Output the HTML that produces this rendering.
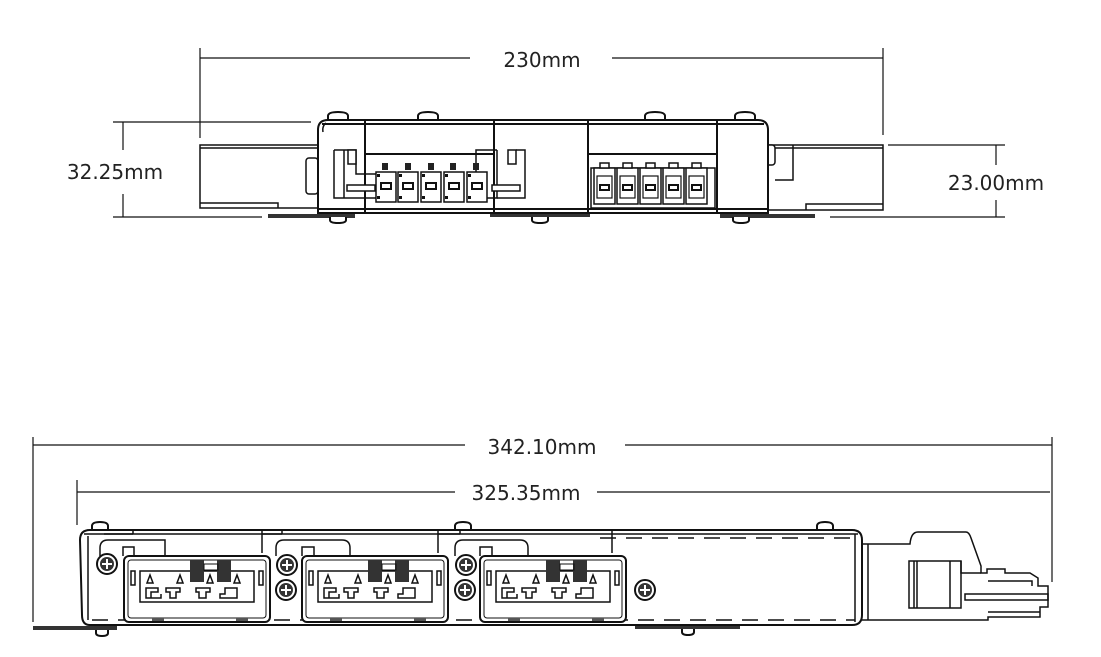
<!DOCTYPE html>
<html><head><meta charset="utf-8"><style>
html,body{margin:0;padding:0;background:#fff;}
svg{display:block;}
text{font-family:"DejaVu Sans","Liberation Sans",sans-serif;font-size:20px;fill:#222;}
</style></head><body>
<svg width="1101" height="657" viewBox="0 0 1101 657" xmlns="http://www.w3.org/2000/svg">
<defs>
<g id="tc">
 <rect x="0" y="0" width="20" height="30" fill="#fff" stroke="#111" stroke-width="1.5"/>
 <rect x="5" y="11" width="10" height="6" fill="#fff" stroke="#111" stroke-width="2"/>
 <rect x="1" y="2" width="3" height="3" fill="#111"/><rect x="1" y="24" width="3" height="3" fill="#111"/>
</g>
<g id="tc2">
 <rect x="0" y="0" width="21" height="36" fill="#fff" stroke="#111" stroke-width="1.5"/>
 <rect x="3" y="8" width="15" height="22" fill="#fff" stroke="#111" stroke-width="1.2"/>
 <rect x="6" y="17" width="9" height="5" fill="#fff" stroke="#111" stroke-width="2"/>
 <rect x="6" y="-5" width="9" height="5" fill="#fff" stroke="#111" stroke-width="1.5"/>
</g>
<g id="scr">
 <circle r="10" fill="#fff" stroke="#111" stroke-width="2"/>
 <circle r="7" fill="#333"/>
 <path d="M-5 0H5M0 -5V5" stroke="#fff" stroke-width="2"/>
</g>
<g id="out">
 <rect x="0" y="0" width="146" height="66" rx="5" fill="#fff" stroke="#111" stroke-width="2"/>
 <rect x="4" y="4" width="138" height="58" rx="3" fill="none" stroke="#111" stroke-width="1"/>
 <rect x="16" y="15" width="114" height="31" fill="none" stroke="#111" stroke-width="1.5"/>
 <rect x="7" y="15" width="4" height="14" fill="none" stroke="#111" stroke-width="1.5"/>
 <rect x="135" y="15" width="4" height="14" fill="none" stroke="#111" stroke-width="1.5"/>
 <path d="M23 27l3-8 3 8z M53 27l3-8 3 8z M83 27l3-8 3 8z M110 27l3-8 3 8z" fill="none" stroke="#111" stroke-width="1.5"/>
 <rect x="66" y="4" width="14" height="22" fill="#333"/>
 <rect x="93" y="4" width="14" height="22" fill="#333"/>
 <rect x="80" y="8" width="14" height="6" fill="none" stroke="#111"/>
 <path d="M22 32h12v4h-7v6h-5z M27 36v6h10v-4 M42 32h14v4h-4v6h-6v-6h-4z M72 32h14v4h-4v6h-7v-6h-3z M96 38h5v-6h12v10h-17z" fill="none" stroke="#111" stroke-width="1.5"/>
 <rect x="28" y="62" width="12" height="3" fill="#555"/><rect x="112" y="62" width="12" height="3" fill="#555"/>
</g>
</defs>

<g stroke="#111" fill="none" stroke-width="1.5">
<!-- 230mm dimension -->
<path d="M200 48V138 M883 48V135 M200 58H470 M612 58H883" stroke-width="1.2"/>
<!-- 32.25 -->
<path d="M113 122H311 M113 217H262 M123 122V150 M123 194V217" stroke-width="1.2"/>
<!-- 23.00 -->
<path d="M888 145H1005 M830 217H1005 M996 145V165 M996 200V217" stroke-width="1.2"/>

<!-- left tab -->
<rect x="200" y="145" width="118" height="63" fill="#fff"/>
<path d="M200 148H318 M200 203H278V208"/>
<rect x="306" y="158" width="12" height="36" rx="3" fill="#fff"/>
<!-- right tab -->
<rect x="768" y="145" width="115" height="65" fill="#fff"/>
<path d="M775 148H883 M806 210V204H883 M793 145V180H775"/>
<rect x="766" y="145" width="9" height="20" rx="3" fill="#fff"/>
<!-- plates -->
<rect x="268" y="214" width="87" height="4" fill="#333" stroke="none"/>
<rect x="490" y="213" width="100" height="4" fill="#333" stroke="none"/>
<rect x="720" y="214" width="95" height="4" fill="#333" stroke="none"/>
<!-- top screws -->
<path d="M328 120v-4q0-4 10-4t10 4v4 M418 120v-4q0-4 10-4t10 4v4 M645 120v-4q0-4 10-4t10 4v4 M735 120v-4q0-4 10-4t10 4v4" fill="#fff" stroke-width="2"/>
<path d="M330 217v3q0 3 8 3t8-3v-3 M532 217v3q0 3 8 3t8-3v-3 M733 217v3q0 3 8 3t8-3v-3" fill="#fff" stroke-width="2"/>
<!-- body -->
<path d="M318 130Q318 120 328 120H758Q768 120 768 130V213H318Z" fill="#fff" stroke-width="2"/>
<path d="M322 124H764 M318 209H768 M365 120V213 M494 120V213 M588 120V213 M717 120V213 M365 154H494 M588 154H717" stroke-width="2"/>
<path d="M326 123Q322 126 323 132" />
<!-- left latch frame -->
<path d="M334 150V198H377 M497 150V198H471 M334 150H356V174H377 M497 150H476V174H471" stroke-width="1.5"/>
<rect x="348" y="150" width="8" height="14" fill="#fff"/><rect x="508" y="150" width="8" height="14" fill="#fff"/>
<path d="M516 150H525V198H497" />
<path d="M344 150V198" />
<rect x="347" y="185" width="28" height="6" fill="#fff"/>
<rect x="492" y="185" width="28" height="6" fill="#fff"/>
</g>
<g>
<rect x="382" y="163" width="6" height="7" fill="#222"/><rect x="405" y="163" width="6" height="7" fill="#222"/><rect x="428" y="163" width="6" height="7" fill="#222"/><rect x="450" y="163" width="6" height="7" fill="#222"/><rect x="473" y="163" width="6" height="7" fill="#222"/>
<use href="#tc" x="376" y="172"/><use href="#tc" x="398" y="172"/><use href="#tc" x="421" y="172"/><use href="#tc" x="444" y="172"/><use href="#tc" x="467" y="172"/>
<rect x="591" y="168" width="124" height="40" fill="none" stroke="#111" stroke-width="1.5"/>
<use href="#tc2" x="594" y="168"/><use href="#tc2" x="617" y="168"/><use href="#tc2" x="640" y="168"/><use href="#tc2" x="663" y="168"/><use href="#tc2" x="686" y="168"/>
</g>

<text x="542" y="67" text-anchor="middle">230mm</text>
<text x="115" y="179" text-anchor="middle">32.25mm</text>
<text x="996" y="190" text-anchor="middle">23.00mm</text>

<!-- bottom view -->
<g stroke="#111" fill="none" stroke-width="1.2">
<path d="M33 437V622 M1052 437V582 M33 445H465 M625 445H1052"/>
<path d="M77 480V525 M77 492H455 M597 492H1050"/>
</g>
<text x="542" y="454" text-anchor="middle">342.10mm</text>
<text x="526" y="500" text-anchor="middle">325.35mm</text>

<g stroke="#111" fill="none" stroke-width="1.5">
<rect x="33" y="626" width="84" height="4" fill="#333" stroke="none"/>
<rect x="635" y="625" width="105" height="4" fill="#333" stroke="none"/>
<path d="M92 530v-4q0-4 8-4t8 4v4 M455 530v-4q0-4 8-4t8 4v4 M817 530v-4q0-4 8-4t8 4v4" fill="#fff" stroke-width="2"/>
<path d="M96 630v3q0 3 6 3t6-3v-3 M682 629v3q0 3 6 3t6-3v-3" fill="#fff" stroke-width="2"/>
<!-- right connector section -->
<path d="M862 544H910Q911 532 918 532H966Q969 532 971 538L981 566V573H987V569H1005V573H1030L1038 578V586H1048V607H1040V617H988V620H862" fill="#fff" stroke-width="1.5"/>
<path d="M868 544V620"/>
<rect x="909" y="561" width="52" height="47" fill="#fff"/>
<path d="M914 561V608 M917 561V608 M950 561V608 M961 561V573H981"/>
<rect x="965" y="594" width="83" height="6"/>
<path d="M988 581H1032V586 M988 612H1040"/>
<!-- main body -->
<path d="M80 540Q80 530 90 530H852Q862 530 862 540V615Q862 625 852 625H90Q82 625 82 615Z" fill="#fff" stroke-width="2"/>
<path d="M84 534H858 M855 534V622 M88 536V620"/>
<path d="M133 534V530 M262 530V553 M282 530V534 M438 530V553 M460 530V534 M612 530V553 M104 534H133 M262 534H282 M438 534H460"/>
<path d="M600 538H855" stroke-dasharray="16 10"/>
<path d="M92 620H855" stroke-dasharray="16 10"/>
<path d="M100 556V548Q100 540 108 540H165V556 M276 556V548Q276 540 284 540H342Q350 540 350 548V556 M455 556V548Q455 540 463 540H520Q528 540 528 548V556" />
<path d="M123 556V547H134V556 M302 556V547H314V556 M480 556V547H492V556"/>
</g>
<use href="#out" x="124" y="556"/>
<use href="#out" x="302" y="556"/>
<use href="#out" x="480" y="556"/>
<use href="#scr" x="107" y="564"/>
<use href="#scr" x="287" y="565"/>
<use href="#scr" x="286" y="590"/>
<use href="#scr" x="466" y="565"/>
<use href="#scr" x="465" y="590"/>
<use href="#scr" x="645" y="590"/>
</svg>
</body></html>
